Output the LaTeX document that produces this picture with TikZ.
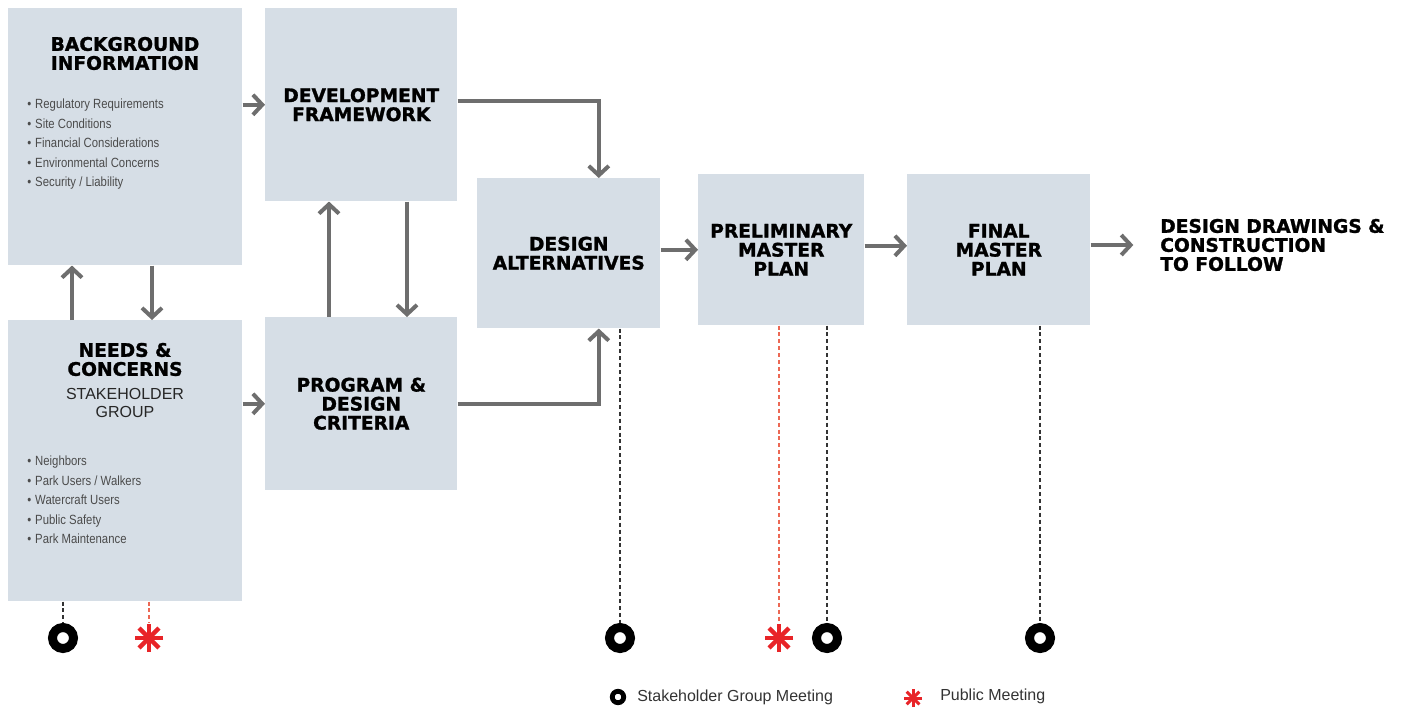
\documentclass[tikz,border=0pt]{standalone}
\usepackage{fontspec}
\setmainfont{Liberation Sans}
\newfontfamily\heavyfont{DejaVu Sans}[BoldFeatures={FakeBold=1.3}]
\newfontfamily\narrowfont{Liberation Sans}[FakeStretch=0.85]
\definecolor{boxblue}{RGB}{214,222,230}
\definecolor{arrowgray}{RGB}{110,110,110}
\definecolor{meetred}{RGB}{232,36,40}
\definecolor{dashred}{RGB}{236,104,84}
\definecolor{listgray}{RGB}{75,75,75}
\usetikzlibrary{positioning,calc,arrows.meta}

\tikzset{
  box/.style={rectangle, fill=boxblue, anchor=north west, inner sep=0pt, align=center,
              font=\heavyfont\bfseries\fontsize{14}{14.25}\selectfont},
  heading/.style={align=center, inner sep=0pt, font=\heavyfont\bfseries\fontsize{14}{14.25}\selectfont},
  subheading/.style={align=center, inner sep=0pt, text=black!85, font=\fontsize{12}{13.5}\selectfont},
  bullets/.style={anchor=north west, align=left, inner sep=0pt, text=listgray,
                  font=\narrowfont\fontsize{10}{14.6}\selectfont},
  flow/.style={draw=arrowgray, line width=3pt, -{Straight Barb[length=7pt,width=15pt]}},
  meetdash/.style={draw=black!80, line width=1.1pt, dash pattern=on 3pt off 2.2pt},
  pubdash/.style={draw=dashred, line width=1.1pt, dash pattern=on 3pt off 2.2pt},
  ring/.style={circle, draw=black, line width=6.75pt, minimum size=15.75pt, inner sep=0pt},
  smallring/.style={ring, line width=3.6pt, minimum size=8.6pt},
  pubspot/.style={circle, minimum size=22.5pt, inner sep=0pt},
  legend/.style={anchor=west, inner sep=0pt, text=black!80, font=\fontsize{12}{14}\selectfont}
}

\begin{document}
\begin{tikzpicture}[x=0.75pt, y=-0.75pt]
    \useasboundingbox (0,0) rectangle (1402,711);

    % boxes
    \node[box, minimum width=175.5pt, minimum height=192.75pt] (bg) at (8,8) {};
    \node[box, minimum width=144pt, minimum height=144.75pt] (df) at (265,8) {DEVELOPMENT\\FRAMEWORK};
    \node[box, minimum width=175.5pt, minimum height=210.75pt] (nc) at (8,320) {};
    \node[box, minimum width=144pt, minimum height=129.75pt] (pd) at (265,317) {PROGRAM \&\\DESIGN\\CRITERIA};
    \node[box, minimum width=137.25pt, minimum height=112.5pt] (da) at (477,178) {DESIGN\\ALTERNATIVES};
    \node[box, minimum width=124.5pt, minimum height=113.25pt] (pmp) at (698,174) {PRELIMINARY\\MASTER\\PLAN};
    \node[box, minimum width=137.25pt, minimum height=113.25pt] (fmp) at (907,174) {FINAL\\MASTER\\PLAN};

    % texts inside the two tall boxes
    \node[heading] (bgtitle) at (125,53.5) {BACKGROUND\\INFORMATION};
    \node[bullets] (bglist) at (27,99) {\textbullet\hspace{3pt}Regulatory Requirements\\
        \textbullet\hspace{3pt}Site Conditions\\
        \textbullet\hspace{3pt}Financial Considerations\\
        \textbullet\hspace{3pt}Environmental Concerns\\
        \textbullet\hspace{3pt}Security / Liability};
    \node[heading] (nctitle) at (125,359.5) {NEEDS \&\\CONCERNS};
    \node[subheading, below=8.5pt of nctitle] (ncsub) {STAKEHOLDER\\GROUP};
    \node[bullets] (nclist) at (27,456) {\textbullet\hspace{3pt}Neighbors\\
        \textbullet\hspace{3pt}Park Users / Walkers\\
        \textbullet\hspace{3pt}Watercraft Users\\
        \textbullet\hspace{3pt}Public Safety\\
        \textbullet\hspace{3pt}Park Maintenance};

    \node[heading, anchor=west, align=left] (out) at (1160,245) {DESIGN DRAWINGS \&\\CONSTRUCTION\\TO FOLLOW};

    % arrows
    \draw[flow] (bg.east |- df.west) -- (df.west);
    \draw[flow] ($(nc.north west)+(64,0)$) -- ($(bg.south west)+(64,0)$);
    \draw[flow] ($(bg.south west)+(144,0)$) -- ($(nc.north west)+(144,0)$);
    \draw[flow] ($(pd.north west)+(64,0)$) -- ($(df.south west)+(64,0)$);
    \draw[flow] ($(df.south west)+(142,0)$) -- ($(pd.north west)+(142,0)$);
    \draw[flow] (nc.east |- pd.west) -- (pd.west);
    \draw[flow] ([yshift=3pt]df.east) -| ($(da.north)+(30,0)$);
    \draw[flow] (pd.east) -| ($(da.south)+(30,0)$);
    \draw[flow] (da.east |- pmp.west) -- (pmp.west);
    \draw[flow] ([yshift=3pt]pmp.east) -- ([yshift=3pt]fmp.west);
    \draw[flow] (fmp.east |- out.west) -- ([xshift=-20pt]out.west);

    % meetings
    \node[ring] (r1) at (63,638) {};
    \node[pubspot] (p1) at (149,638) {};
    \node[ring] (r2) at (620,638) {};
    \node[pubspot] (p2) at (779,638) {};
    \node[ring] (r3) at (827,638) {};
    \node[ring] (r4) at (1040,638) {};

    \draw[meetdash] (r1 |- nc.south) -- (r1.north);
    \draw[pubdash] (p1 |- nc.south) -- (p1.north);
    \draw[meetdash] (r2 |- da.south) -- (r2.north);
    \draw[pubdash] (p2 |- pmp.south) -- (p2.north);
    \draw[meetdash] (r3 |- pmp.south) -- (r3.north);
    \draw[meetdash] (r4 |- fmp.south) -- (r4.north);

    % legend
    \node[smallring] (lr) at (618,697) {};
    \node[legend] (lrtext) at (637,697) {Stakeholder Group Meeting};
    \node[pubspot, minimum size=13.5pt] (lp) at (913,698) {};
    \node[legend] (lptext) at (940,696) {Public Meeting};

    \foreach \p/\r/\w in {p1/14/3.4pt, p2/14/3.4pt, lp/9/2.25pt}
        \foreach \a in {0,45,90,135}
            \draw[draw=meetred, line width=\w] (\p.center) ++(\a:\r) -- ++(\a+180:2*\r);
\end{tikzpicture}
\end{document}
